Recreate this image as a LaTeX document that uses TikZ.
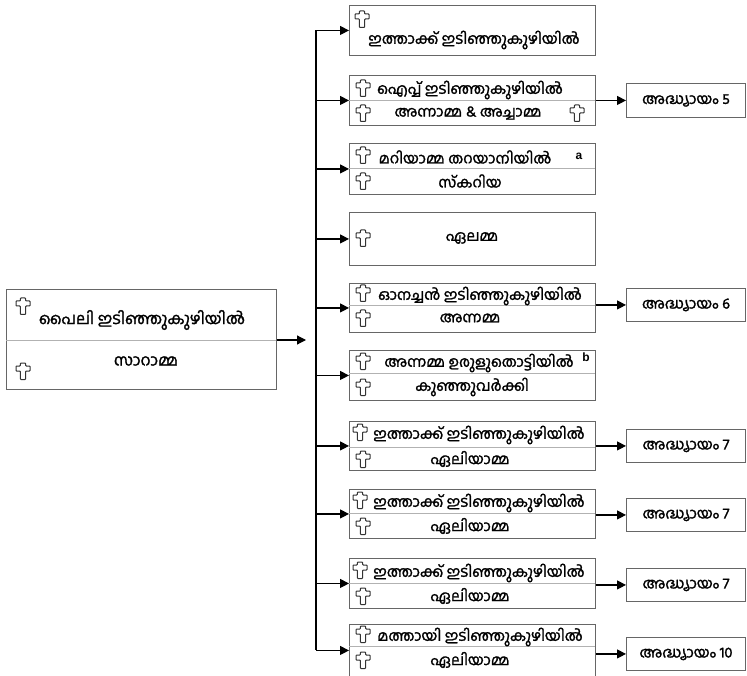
\documentclass[tikz,border=0pt]{standalone}
\usepackage{fontspec}
\setmainfont{Liberation Sans}
\newfontfamily\mlfont[Script=Malayalam,FakeBold=1.6]{Hind Kochi}
\usetikzlibrary{arrows.meta}
\begin{document}
\begin{tikzpicture}[x=1pt,y=-1pt,
  every node/.style={font=\mlfont\fontsize{14.8}{16}\selectfont},
  famb/.style={draw=black!60,line width=0.9pt,minimum width=246pt,anchor=north west,inner sep=0pt},
  chb/.style={draw=black!60,line width=0.9pt,minimum width=119pt,minimum height=33pt,anchor=north west,inner sep=0pt},
  divl/.style={black!30,line width=0.7pt},
  arr/.style={-{Triangle[length=9pt,width=9pt]},line width=1.2pt},
  kurisu/.pic={\draw[black!80,line width=1pt,fill=white,rounded corners=0.7pt]
    (-2.6,-8) -- (2.6,-8) -- (2.6,-5) -- (7,-5) -- (7,0) -- (2.6,0) -- (2.6,8.5)
    -- (-2.6,8.5) -- (-2.6,0) -- (-7,0) -- (-7,-5) -- (-2.6,-5) -- cycle;}]
  \useasboundingbox (0,0) rectangle (747,676);
  % left box
  \node[famb,minimum width=270pt,minimum height=100pt] (pb) at (6,289) {};
  \draw[divl] (6,340) -- (276,340);
  \pic at (23,306) {kurisu};
  \pic at (23,371) {kurisu};
  \node[font=\mlfont\fontsize{15.8}{17}\selectfont] (pbt1) at (142,320) {പൈലി ഇടിഞ്ഞുകുഴിയിൽ};
  \node[font=\mlfont\fontsize{15.8}{17}\selectfont] (pbt2) at (146,361) {സാറാമ്മ};
  \coordinate (split) at (306,340);
  \draw[arr] (pb.east |- split) -- (split);
  % family boxes
  \node[famb,minimum height=50pt] (c1) at (349,5) {};
  \node[famb,minimum height=50pt] (c2) at (349,75) {};
  \node[famb,minimum height=51pt] (c3) at (349,143) {};
  \node[famb,minimum height=53pt] (c4) at (349,212) {};
  \node[famb,minimum height=49pt] (c5) at (349,283) {};
  \node[famb,minimum height=50pt] (c6) at (349,350) {};
  \node[famb,minimum height=49pt] (c7) at (349,421) {};
  \node[famb,minimum height=49pt] (c8) at (349,489) {};
  \node[famb,minimum height=50pt] (c9) at (349,558) {};
  \node[famb,minimum height=52pt] (c10) at (349,624) {};
  \draw[divl] (349,100) -- (595,100);
  \draw[divl] (349,168) -- (595,168);
  \draw[divl] (349,305) -- (595,305);
  \draw[divl] (349,373) -- (595,373);
  \draw[divl] (349,447) -- (595,447);
  \draw[divl] (349,513) -- (595,513);
  \draw[divl] (349,583) -- (595,583);
  \draw[divl] (349,646) -- (595,646);
  % trunk and branches
  \coordinate (trunk) at (316,0);
  \draw[line width=1.2pt] (c1.west -| trunk) -- (c10.west -| trunk);
  \draw[arr] (c1.west -| trunk) -- (c1.west);
  \draw[arr] (c2.west -| trunk) -- (c2.west);
  \draw[arr] (c3.west -| trunk) -- (c3.west);
  \draw[arr] (c4.west -| trunk) -- (c4.west);
  \draw[arr] (c5.west -| trunk) -- (c5.west);
  \draw[arr] (c6.west -| trunk) -- (c6.west);
  \draw[arr] (c7.west -| trunk) -- (c7.west);
  \draw[arr] (c8.west -| trunk) -- (c8.west);
  \draw[arr] (c9.west -| trunk) -- (c9.west);
  \draw[arr] (c10.west -| trunk) -- (c10.west);
  % box texts
  \pic at (362,19) {kurisu};
  \node (t1) at (474,40) {ഇത്താക്ക് ഇടിഞ്ഞുകുഴിയിൽ};
  \pic at (363,88) {kurisu};
  \node (t2a) at (470,90) {ഐപ്പ് ഇടിഞ്ഞുകുഴിയിൽ};
  \pic at (363,113) {kurisu};
  \node (t2b) at (468,113) {അന്നാമ്മ \& അച്ചാമ്മ};
  \pic at (577,113) {kurisu};
  \pic at (363,155) {kurisu};
  \node (t3a) at (465,157) {മറിയാമ്മ തറയാനിയിൽ};
  \node[font=\bfseries\fontsize{12}{14}\selectfont] (t3n) at (579,156) {a};
  \pic at (363,181) {kurisu};
  \node (t3b) at (470,181) {സ്‌കറിയ};
  \pic at (363,238) {kurisu};
  \node (t4) at (472,238) {ഏലമ്മ};
  \pic at (363,293) {kurisu};
  \node (t5a) at (480,296) {ഓനച്ചൻ ഇടിഞ്ഞുകുഴിയിൽ};
  \pic at (363,318) {kurisu};
  \node (t5b) at (470,318) {അന്നമ്മ};
  \pic at (363,361) {kurisu};
  \node (t6a) at (479,363) {അന്നമ്മ ഉരുളുതൊട്ടിയിൽ};
  \node[font=\bfseries\fontsize{12}{14}\selectfont] (t6n) at (586,357) {b};
  \pic at (363,387) {kurisu};
  \node (t6b) at (472,387) {കുഞ്ഞുവർക്കി};
  \pic at (360,432) {kurisu};
  \node (t7a) at (479,435) {ഇത്താക്ക് ഇടിഞ്ഞുകുഴിയിൽ};
  \pic at (363,459) {kurisu};
  \node (t7b) at (470,459) {ഏലിയാമ്മ};
  \pic at (360,500) {kurisu};
  \node (t8a) at (479,503) {ഇത്താക്ക് ഇടിഞ്ഞുകുഴിയിൽ};
  \pic at (363,526) {kurisu};
  \node (t8b) at (470,526) {ഏലിയാമ്മ};
  \pic at (360,570) {kurisu};
  \node (t9a) at (479,573) {ഇത്താക്ക് ഇടിഞ്ഞുകുഴിയിൽ};
  \pic at (363,596) {kurisu};
  \node (t9b) at (470,596) {ഏലിയാമ്മ};
  \pic at (363,634) {kurisu};
  \node (t10a) at (480,637) {മത്തായി ഇടിഞ്ഞുകുഴിയിൽ};
  \pic at (363,660) {kurisu};
  \node (t10b) at (470,660) {ഏലിയാമ്മ};
  % chapter boxes
  \node[chb,minimum height=34pt] (ch5) at (626,83) {};
  \node[chb] (ch6) at (626,288) {};
  \node[chb] (ch7a) at (626,429) {};
  \node[chb] (ch7b) at (626,498) {};
  \node[chb] (ch7c) at (626,568) {};
  \node[chb] (ch10) at (626,637) {};
  \node (ch5t) at (ch5) {അദ്ധ്യായം 5};
  \node (ch6t) at (ch6) {അദ്ധ്യായം 6};
  \node (ch7at) at (ch7a) {അദ്ധ്യായം 7};
  \node (ch7bt) at (ch7b) {അദ്ധ്യായം 7};
  \node (ch7ct) at (ch7c) {അദ്ധ്യായം 7};
  \node (ch10t) at (ch10) {അദ്ധ്യായം 10};
  \draw[arr] (c2.east |- ch5) -- (ch5.west);
  \draw[arr] (c5.east |- ch6) -- (ch6.west);
  \draw[arr] (c7.east |- ch7a) -- (ch7a.west);
  \draw[arr] (c8.east |- ch7b) -- (ch7b.west);
  \draw[arr] (c9.east |- ch7c) -- (ch7c.west);
  \draw[arr] (c10.east |- ch10) -- (ch10.west);
\end{tikzpicture}
\end{document}
